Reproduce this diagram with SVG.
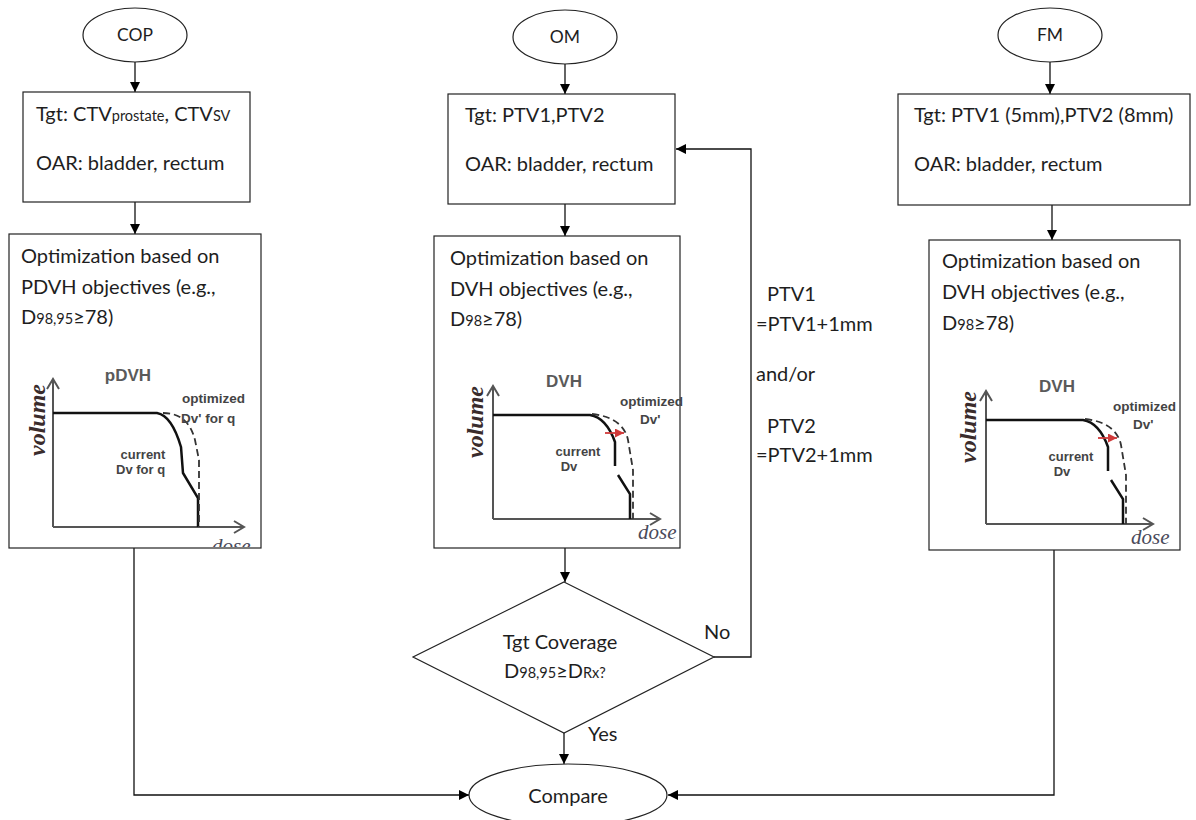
<svg xmlns="http://www.w3.org/2000/svg" width="1196" height="820" viewBox="0 0 1196 820">
<style>
.t{font-family:Lato,"Open Sans","Liberation Sans",sans-serif;font-size:20px;fill:#1e1e1e}
.o{font-size:17.5px}
.s{font-size:14.5px}
.box{fill:#fff;stroke:#222;stroke-width:1.2}
.con{fill:none;stroke:#111;stroke-width:1.3}
.ax{fill:none;stroke:#555;stroke-width:2}
.cur{fill:none;stroke:#111;stroke-width:2.5}
.dsh{fill:none;stroke:#333;stroke-width:1.8;stroke-dasharray:7,4}
.pt{font-family:"Liberation Sans",Arial,sans-serif;font-weight:bold;fill:#444}
.ttl{font-family:"Liberation Sans",Arial,sans-serif;font-weight:bold;font-size:17px;fill:#5a5a5a}
.vol{font-family:"Liberation Serif","DejaVu Serif",serif;font-weight:bold;font-style:italic;font-size:24px;fill:#3a2c2c}
.dose{font-family:"Liberation Serif","DejaVu Serif",serif;font-style:italic;font-size:21px;fill:#4a4a5a}
</style>
<defs>
<marker id="ah" viewBox="0 0 10 10" refX="10" refY="5" markerWidth="10" markerHeight="10" markerUnits="userSpaceOnUse" orient="auto">
<path d="M0,0 L10,5 L0,10 z" fill="#000"/>
</marker>
<marker id="rh" viewBox="0 0 10 10" refX="10" refY="5" markerWidth="10" markerHeight="9" markerUnits="userSpaceOnUse" orient="auto">
<path d="M0,0 L10,5 L0,10 z" fill="#d03a3a"/>
</marker>
<clipPath id="cCOP"><rect x="10" y="235" width="250" height="312"/></clipPath>
<g id="dvhplot">
<path class="ax" d="M493,519 L493,386 M487,396 L493,386 L499,396 M493,519 L660,519 M650,513 L660,519 L650,525"/>
<path class="cur" d="M493,415 L590,415 C602,417 610,428 615,442 L615,466 M618,475 L630,494 L630,519"/>
<path class="dsh" d="M592,414 C612,416 625,425 628,440 L633,470 L633,519"/>
<line x1="605" y1="433" x2="624" y2="433" stroke="#d03a3a" stroke-width="1.8" marker-end="url(#rh)"/>
<text class="ttl" x="564" y="387" text-anchor="middle">DVH</text>
<text class="pt" x="620" y="406" font-size="13.5">optimized</text>
<text class="pt" x="640" y="424" font-size="13.5">Dv'</text>
<text class="pt" x="578" y="456" font-size="13" text-anchor="middle">current</text>
<text class="pt" x="569" y="471" font-size="13" text-anchor="middle">Dv</text>
<text class="vol" transform="translate(483,422) rotate(-90)" text-anchor="middle">volume</text>
<text class="dose" x="638" y="539">dose</text>
</g>
</defs>

<g id="connectors">
<line class="con" x1="135" y1="62" x2="135" y2="92" marker-end="url(#ah)"/>
<line class="con" x1="135" y1="202" x2="135" y2="234" marker-end="url(#ah)"/>
<polyline class="con" points="134,548 134,795 469,795" marker-end="url(#ah)"/>
<line class="con" x1="565" y1="64" x2="565" y2="94" marker-end="url(#ah)"/>
<line class="con" x1="565" y1="204" x2="565" y2="236" marker-end="url(#ah)"/>
<line class="con" x1="565" y1="548" x2="565" y2="582" marker-end="url(#ah)"/>
<line class="con" x1="564" y1="733" x2="564" y2="764" marker-end="url(#ah)"/>
<polyline class="con" points="714,657 751,657 751,149 676,149" marker-end="url(#ah)"/>
<line class="con" x1="1050" y1="62" x2="1050" y2="94" marker-end="url(#ah)"/>
<line class="con" x1="1052" y1="205" x2="1052" y2="240" marker-end="url(#ah)"/>
<polyline class="con" points="1054,550 1054,795 668,795" marker-end="url(#ah)"/>
<text class="t" x="704" y="639">No</text>
<text class="t" x="588" y="741">Yes</text>
<text class="t" x="767" y="301">PTV1</text>
<text class="t" x="756" y="331">=PTV1+1mm</text>
<text class="t" x="756" y="381">and/or</text>
<text class="t" x="767" y="433">PTV2</text>
<text class="t" x="756" y="462">=PTV2+1mm</text>
</g>

<g id="cop">
<ellipse class="box" cx="135" cy="35" rx="52" ry="27"/>
<text class="t o" x="135" y="41" text-anchor="middle">COP</text>
</g>
<g id="cop-structures">
<rect class="box" x="23" y="92" width="227" height="110"/>
<text class="t" x="36" y="121">Tgt: CTV<tspan class="s">prostate</tspan>, CTV<tspan class="s">SV</tspan></text>
<text class="t" x="36" y="170">OAR: bladder, rectum</text>
</g>
<g id="cop-optim">
<rect class="box" x="9" y="234" width="252" height="314"/>
<text class="t" x="21" y="263">Optimization based on</text>
<text class="t" x="21" y="294">PDVH objectives (e.g.,</text>
<text class="t" x="21" y="324">D<tspan class="s">98,95</tspan>≥78)</text>
<g clip-path="url(#cCOP)">
<path class="ax" d="M53,527 L53,379 M47,389 L53,379 L59,389 M53,527 L244,527 M234,521 L244,527 L234,533"/>
<path class="cur" d="M53,413 L157,413 C168,415 176,430 181,447 L183,473 L198,498 L198,527"/>
<path class="dsh" d="M163,413 C178,413 190,420 195,440 L199,460 L199,527"/>
<text class="ttl" x="128" y="381" text-anchor="middle">pDVH</text>
<text class="pt" x="182" y="403" font-size="13.5">optimized</text>
<text class="pt" x="181" y="423" font-size="13.5">Dv' for  q</text>
<text class="pt" x="143" y="459" font-size="13" text-anchor="middle">current</text>
<text class="pt" x="116" y="474" font-size="13">Dv for  q</text>
<text class="vol" transform="translate(45,420) rotate(-90)" text-anchor="middle">volume</text>
<text class="dose" x="212" y="553">dose</text>
</g>
</g>

<g id="om">
<ellipse class="box" cx="565" cy="37" rx="52" ry="27"/>
<text class="t o" x="565" y="43" text-anchor="middle">OM</text>
</g>
<g id="om-structures">
<rect class="box" x="448" y="94" width="227" height="110"/>
<text class="t" x="465" y="122">Tgt: PTV1,PTV2</text>
<text class="t" x="465" y="171">OAR: bladder, rectum</text>
</g>
<g id="om-optim">
<rect class="box" x="434" y="236" width="246" height="312"/>
<text class="t" x="450" y="265">Optimization based on</text>
<text class="t" x="450" y="296">DVH objectives (e.g.,</text>
<text class="t" x="450" y="326">D<tspan class="s">98</tspan>≥78)</text>
<use href="#dvhplot"/>
</g>
<g id="decision">
<polygon class="box" points="564,582 714,657 564,733 413,657"/>
<text class="t" x="560" y="649" text-anchor="middle">Tgt Coverage</text>
<text class="t" x="504" y="678">D<tspan class="s">98,95</tspan>≥D<tspan class="s">Rx?</tspan></text>
</g>

<g id="fm">
<ellipse class="box" cx="1050" cy="35" rx="52" ry="27"/>
<text class="t o" x="1050" y="41" text-anchor="middle">FM</text>
</g>
<g id="fm-structures">
<rect class="box" x="898" y="94" width="292" height="111"/>
<text class="t" x="914" y="122">Tgt: PTV1 (5mm),PTV2  (8mm)</text>
<text class="t" x="914" y="171">OAR: bladder, rectum</text>
</g>
<g id="fm-optim">
<rect class="box" x="929" y="240" width="251" height="310"/>
<text class="t" x="942" y="268">Optimization based on</text>
<text class="t" x="942" y="299">DVH objectives (e.g.,</text>
<text class="t" x="942" y="330">D<tspan class="s">98</tspan>≥78)</text>
<use href="#dvhplot" transform="translate(493,5)"/>
</g>

<g id="compare">
<ellipse class="box" cx="568" cy="795" rx="99" ry="31"/>
<text class="t" x="568" y="803" text-anchor="middle" font-size="23">Compare</text>
</g>
</svg>
